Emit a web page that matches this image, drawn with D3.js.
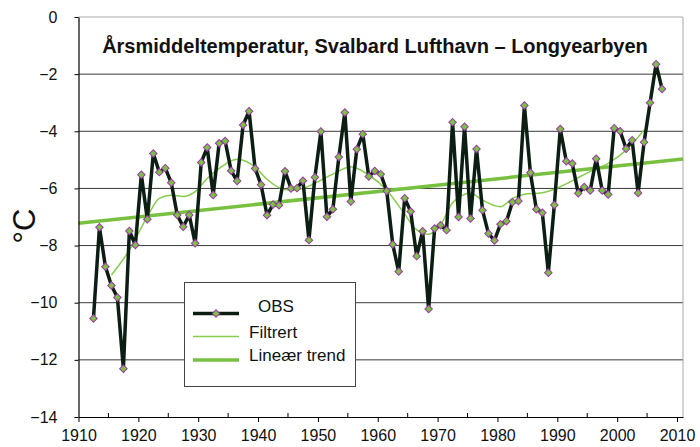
<!DOCTYPE html>
<html>
<head>
<meta charset="utf-8">
<script src="https://cdnjs.cloudflare.com/ajax/libs/d3/7.8.5/d3.min.js"></script>
<style>
body { margin: 0; background: #fff; }
svg text { font-family: Arial, "Liberation Sans", sans-serif; fill: #111; }
</style>
</head>
<body>
<div id="plot"></div>
<script>
// annual means, Svalbard Lufthavn, 1912-2007
var firstYear = 1912;
var obsValues = [
    -10.55, -7.36, -8.74, -9.40, -9.82, -12.31, -7.49, -7.98,          // 1912-1919
    -5.52, -7.08, -4.78, -5.43, -5.29, -5.80, -6.93, -7.34, -6.93, -7.92, // 1920s
    -5.09, -4.57, -6.23, -4.42, -4.34, -5.38, -5.74, -3.78, -3.30, -5.30, // 1930s
    -5.87, -6.94, -6.56, -6.59, -5.40, -6.00, -5.99, -5.73, -7.81, -5.61, // 1940s
    -4.01, -6.99, -6.73, -4.90, -3.34, -6.46, -4.63, -4.10, -5.58, -5.39, // 1950s
    -5.50, -6.09, -7.96, -8.91, -6.34, -6.81, -8.37, -7.50, -10.22, -7.40, // 1960s
    -7.29, -7.46, -3.68, -7.00, -3.84, -7.05, -4.62, -6.76, -7.58, -7.82, // 1970s
    -7.25, -7.15, -6.48, -6.44, -3.10, -5.45, -6.73, -6.85, -8.95, -6.58, // 1980s
    -3.92, -5.05, -5.13, -6.17, -5.95, -6.07, -4.96, -6.07, -6.21, -3.89, // 1990s
    -4.00, -4.61, -4.31, -6.16, -4.38, -3.00, -1.65, -2.52                // 2000-2007
];

var filtYears = [1915, 1918, 1921, 1923, 1925, 1927, 1929, 1931, 1933, 1936,
                 1939, 1941, 1943, 1945, 1947, 1949, 1952, 1955, 1958, 1961,
                 1964, 1966, 1968, 1970, 1972, 1975, 1977, 1980, 1982, 1984,
                 1987, 1990, 1993, 1995, 1998, 2001, 2004];
var filtValues = [-9.03, -8.16, -6.99, -6.35, -6.24, -6.28, -6.11, -5.65, -5.30, -4.98,
                  -5.25, -5.68, -5.97, -6.06, -6.00, -5.82, -5.50, -5.24, -5.53, -6.06,
                  -6.90, -7.45, -7.60, -7.28, -6.50, -6.17, -6.41, -6.64, -6.35, -6.20,
                  -6.15, -5.94, -5.62, -5.41, -5.12, -4.66, -3.95];

var trendYears = [1910, 2011];
var trendValues = [-7.22, -4.97];

var xTicks = [1910, 1920, 1930, 1940, 1950, 1960, 1970, 1980, 1990, 2000, 2010];
var xMinorTicks = [1915, 1925, 1935, 1945, 1955, 1965, 1975, 1985, 1995, 2005];
var yTicks = [0, -2, -4, -6, -8, -10, -12, -14];
var legendLabels = ["OBS", "Filtrert", "Lineær trend"];
var titleText = "Årsmiddeltemperatur, Svalbard Lufthavn – Longyearbyen";

var col = {
    obs: "#0c1e14",
    marker: "#7cc142",
    markerStroke: "#9a3aa8",
    filt: "#86cc4a",
    trend: "#78c040",
    grid: "#3a3a3a",
    frame: "#a8a8a8"
};

var svg = d3.select("#plot")
            .append("svg")
            .attr("width", 700)
            .attr("height", 447);

var xScale = d3.scaleLinear().domain([1910, 2011]).range([78.5, 683]),
    yScale = d3.scaleLinear().domain([-14, 0]).range([417, 17]);

var obsData = obsValues.map(function(v, i){ return { year: firstYear + i, value: v }; });
var filtData = filtYears.map(function(yr, i){ return { year: yr, value: filtValues[i] }; });
var trendData = trendYears.map(function(yr, i){ return { year: yr, value: trendValues[i] }; });

// grid lines
svg.append("g").selectAll("line")
    .data(yTicks.filter(function(d){ return d < 0 && d > -14; }))
    .enter().append("line")
    .attr("x1", xScale(1910))
    .attr("x2", xScale(2011))
    .attr("y1", function(d){ return yScale(d); })
    .attr("y2", function(d){ return yScale(d); })
    .style("stroke", col.grid)
    .style("stroke-width", 1);

// top and right frame
svg.append("line")
    .attr("x1", xScale(1910)).attr("x2", xScale(2011))
    .attr("y1", yScale(0)).attr("y2", yScale(0))
    .style("stroke", col.frame);
svg.append("line")
    .attr("x1", xScale(2011)).attr("x2", xScale(2011))
    .attr("y1", yScale(0)).attr("y2", yScale(-14))
    .style("stroke", col.frame);

// filtered series
var filtLine = d3.line()
    .x(function(d){ return xScale(d.year + 0.5); })
    .y(function(d){ return yScale(d.value); })
    .curve(d3.curveMonotoneX);
svg.append("path")
    .datum(filtData)
    .attr("d", filtLine)
    .style("fill", "none")
    .style("stroke", col.filt)
    .style("stroke-width", 1.5);

// linear trend
var trendLine = d3.line()
    .x(function(d){ return xScale(d.year); })
    .y(function(d){ return yScale(d.value); });
svg.append("path")
    .datum(trendData)
    .attr("d", trendLine)
    .style("fill", "none")
    .style("stroke", col.trend)
    .style("stroke-width", 3.5);

// observations
var obsLine = d3.line()
    .x(function(d){ return xScale(d.year + 0.5); })
    .y(function(d){ return yScale(d.value); });
svg.append("path")
    .datum(obsData)
    .attr("d", obsLine)
    .style("fill", "none")
    .style("stroke", col.obs)
    .style("stroke-width", 3.5)
    .style("stroke-linejoin", "round");

var diamond = d3.symbol().type(d3.symbolSquare).size(28);
svg.append("g").selectAll("path")
    .data(obsData)
    .enter().append("path")
    .attr("d", diamond)
    .attr("transform", function(d){
        return "translate(" + xScale(d.year + 0.5) + "," + yScale(d.value) + ") rotate(45)";
    })
    .style("fill", col.marker)
    .style("stroke", col.markerStroke)
    .style("stroke-width", 1);

// axes
var yAxis = svg.append("g")
    .attr("transform", "translate(" + xScale(1910) + ",0)")
    .call(d3.axisLeft(yScale).tickValues(yTicks).tickSize(4).tickPadding(17).tickSizeOuter(0));
var xAxis = svg.append("g")
    .attr("transform", "translate(0," + yScale(-14) + ")")
    .call(d3.axisBottom(xScale).tickValues(xTicks).tickFormat(d3.format("d")).tickSize(5).tickPadding(8).tickSizeOuter(0));
[yAxis, xAxis].forEach(function(ax){
    ax.select(".domain").style("stroke", "#000").style("stroke-width", 1.2);
    ax.selectAll(".tick line").style("stroke", "#000");
    ax.selectAll(".tick text")
        .style("font-size", "16px")
        .style("font-family", "Arial, 'Liberation Sans', sans-serif")
        .style("fill", "#111");
});
svg.append("g").selectAll("line")
    .data(xMinorTicks)
    .enter().append("line")
    .attr("x1", function(d){ return xScale(d); })
    .attr("x2", function(d){ return xScale(d); })
    .attr("y1", yScale(-14))
    .attr("y2", yScale(-14) - 4)
    .style("stroke", "#000");

svg.append("text")
    .attr("transform", "translate(35,226) rotate(-90)")
    .attr("text-anchor", "middle")
    .style("font-size", "31px")
    .text("°C");

// title
svg.append("text")
    .attr("x", 375)
    .attr("y", 53)
    .attr("text-anchor", "middle")
    .style("font-size", "20px")
    .style("font-weight", "bold")
    .text(titleText);

// legend
var g_legend = svg.append("g");
g_legend.append("rect")
    .attr("x", 184.5).attr("y", 282.5)
    .attr("width", 171).attr("height", 104)
    .style("fill", "#fff")
    .style("stroke", "#444");

var legendRows = [
    { label: legendLabels[0], y: 313.5, stroke: col.obs, width: 3.5, tx: 258, ty: 312, marker: true },
    { label: legendLabels[1], y: 336.5, stroke: col.filt, width: 1.5, tx: 249, ty: 337.5, marker: false },
    { label: legendLabels[2], y: 360, stroke: col.trend, width: 3.5, tx: 249, ty: 361, marker: false }
];
legendRows.forEach(function(r){
    g_legend.append("line")
        .attr("x1", 193).attr("x2", 239)
        .attr("y1", r.y).attr("y2", r.y)
        .style("stroke", r.stroke)
        .style("stroke-width", r.width);
    if (r.marker) {
        g_legend.append("path")
            .attr("d", diamond)
            .attr("transform", "translate(216," + r.y + ") rotate(45)")
            .style("fill", col.marker)
            .style("stroke", col.markerStroke);
    }
    g_legend.append("text")
        .attr("x", r.tx)
        .attr("y", r.ty)
        .style("font-size", "17px")
        .text(r.label);
});
</script>
</body>
</html>
